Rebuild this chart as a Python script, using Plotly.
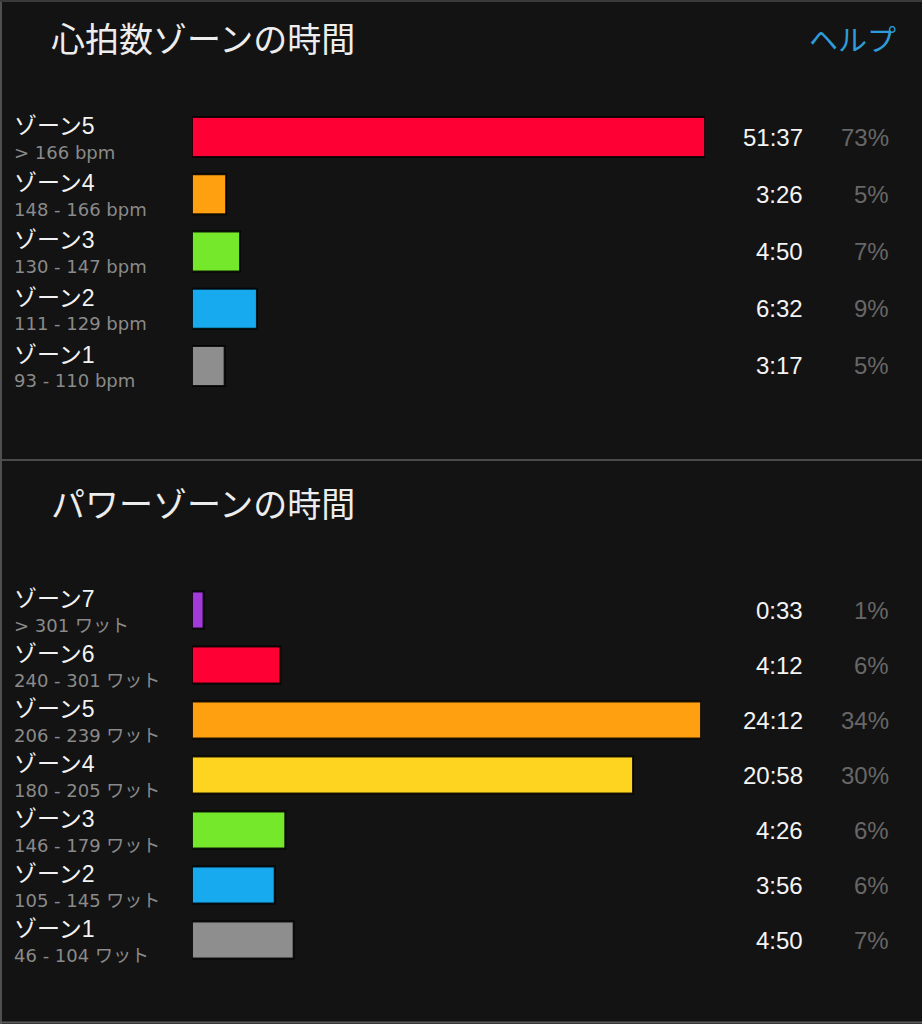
import plotly.graph_objects as go

W, H = 922, 1024

# ---- data ----
hr_title = "心拍数ゾーンの時間"
help_text = "ヘルプ"
hr_zones = ["ゾーン5", "ゾーン4", "ゾーン3", "ゾーン2", "ゾーン1"]
hr_ranges = ["> 166 bpm", "148 - 166 bpm", "130 - 147 bpm", "111 - 129 bpm", "93 - 110 bpm"]
hr_times = ["51:37", "3:26", "4:50", "6:32", "3:17"]
hr_pcts = ["73%", "5%", "7%", "9%", "5%"]
hr_colors = ["#FF0035", "#FFA010", "#76E82C", "#17AAEE", "#8E8E8E"]

pw_title = "パワーゾーンの時間"
pw_zones = ["ゾーン7", "ゾーン6", "ゾーン5", "ゾーン4", "ゾーン3", "ゾーン2", "ゾーン1"]
pw_ranges = ["> 301 ワット", "240 - 301 ワット", "206 - 239 ワット", "180 - 205 ワット",
             "146 - 179 ワット", "105 - 145 ワット", "46 - 104 ワット"]
pw_times = ["0:33", "4:12", "24:12", "20:58", "4:26", "3:56", "4:50"]
pw_pcts = ["1%", "6%", "34%", "30%", "6%", "6%", "7%"]
pw_colors = ["#A23ADB", "#FF0035", "#FFA010", "#FFD420", "#76E82C", "#17AAEE", "#8E8E8E"]


def to_sec(t):
    m, s = t.split(":")
    return int(m) * 60 + int(s)


hr_secs = [to_sec(t) for t in hr_times]
pw_secs = [to_sec(t) for t in pw_times]

BG = "#131313"
CJK = "Liberation Sans, Arial, Noto Sans CJK JP"
SUB = "DejaVu Sans, Noto Sans CJK JP"

fig = go.Figure()
fig.add_trace(go.Bar(
    x=hr_secs, y=hr_zones, orientation="h", width=0.70,
    marker=dict(color=hr_colors, line=dict(color="rgba(0,0,0,0.85)", width=2)),
    xaxis="x", yaxis="y", hoverinfo="skip", showlegend=False))
fig.add_trace(go.Bar(
    x=pw_secs, y=pw_zones, orientation="h", width=0.67,
    marker=dict(color=pw_colors, line=dict(color="rgba(0,0,0,0.85)", width=2)),
    xaxis="x2", yaxis="y2", hoverinfo="skip", showlegend=False))


def py(px):
    return 1 - px / H


def pxx(px):
    return px / W


hidden = dict(showgrid=False, zeroline=False, showticklabels=False, ticks="", showline=False, fixedrange=True)

fig.update_layout(
    width=W, height=H,
    margin=dict(l=0, r=0, t=0, b=0),
    paper_bgcolor=BG, plot_bgcolor=BG,
    bargap=0,
    xaxis=dict(domain=[pxx(192), pxx(705)], range=[0, max(hr_secs)], anchor="y", **hidden),
    yaxis=dict(domain=[py(394.6), py(108.4)], range=[len(hr_zones) - 0.5, -0.5],
               type="category", categoryorder="array", categoryarray=hr_zones, anchor="x", **hidden),
    xaxis2=dict(domain=[pxx(192), pxx(701)], range=[0, max(pw_secs)], anchor="y2", **hidden),
    yaxis2=dict(domain=[py(967.5), py(582.5)], range=[len(pw_zones) - 0.5, -0.5],
                type="category", categoryorder="array", categoryarray=pw_zones, anchor="x2", **hidden),
)

ann = []
# titles
ann.append(dict(text=hr_title, xref="paper", yref="paper", x=pxx(49), y=py(37),
                xanchor="left", yanchor="middle", showarrow=False,
                font=dict(family="Noto Sans CJK JP", size=34, color="#EDEDED")))
ann.append(dict(text=help_text, xref="paper", yref="paper", x=pxx(898), y=py(38),
                xanchor="right", yanchor="middle", showarrow=False,
                font=dict(family="Noto Sans CJK JP", size=29, color="#2E9CDA")))
ann.append(dict(text=pw_title, xref="paper", yref="paper", x=pxx(49), y=py(502),
                xanchor="left", yanchor="middle", showarrow=False,
                font=dict(family="Noto Sans CJK JP", size=34, color="#EDEDED")))


def rows(zones, ranges, times, pcts, yref):
    out = []
    for z, r, t, p in zip(zones, ranges, times, pcts):
        out.append(dict(text=z, xref="paper", yref=yref, x=pxx(12), y=z, yshift=11,
                        xanchor="left", yanchor="middle", showarrow=False,
                        font=dict(family=CJK, size=23, color="#F2F2F2")))
        out.append(dict(text=r, xref="paper", yref=yref, x=pxx(12), y=z, yshift=-15,
                        xanchor="left", yanchor="middle", showarrow=False,
                        font=dict(family=SUB, size=18, color="#8A8A8A")))
        out.append(dict(text=t, xref="paper", yref=yref, x=pxx(805), y=z,
                        xanchor="right", yanchor="middle", showarrow=False,
                        font=dict(family="Liberation Sans, Arial", size=24, color="#F4F4F4")))
        out.append(dict(text=p, xref="paper", yref=yref, x=pxx(891), y=z,
                        xanchor="right", yanchor="middle", showarrow=False,
                        font=dict(family="Liberation Sans, Arial", size=24, color="#676767")))
    return out


ann += rows(hr_zones, hr_ranges, hr_times, hr_pcts, "y")
ann += rows(pw_zones, pw_ranges, pw_times, pw_pcts, "y2")
fig.update_layout(annotations=ann)

shapes = [
    dict(type="line", xref="paper", yref="paper", x0=0, x1=1, y0=py(460), y1=py(460),
         line=dict(color="#4A4A4A", width=2)),
    dict(type="line", xref="paper", yref="paper", x0=pxx(1), x1=pxx(1), y0=0, y1=1,
         line=dict(color="#4F4F4F", width=2)),
    dict(type="line", xref="paper", yref="paper", x0=0, x1=1, y0=py(1), y1=py(1),
         line=dict(color="#3A3A3A", width=2)),
    dict(type="line", xref="paper", yref="paper", x0=0, x1=1, y0=py(1022.5), y1=py(1022.5),
         line=dict(color="#5A5A5A", width=2)),
]
fig.update_layout(shapes=shapes)

fig.write_html(
    "out.html",
    config={"displayModeBar": False, "staticPlot": True},
    post_script="document.body.style.margin='0';document.body.style.padding='0';"
                "document.body.style.background='" + BG + "';document.body.style.overflow='hidden';",
)
